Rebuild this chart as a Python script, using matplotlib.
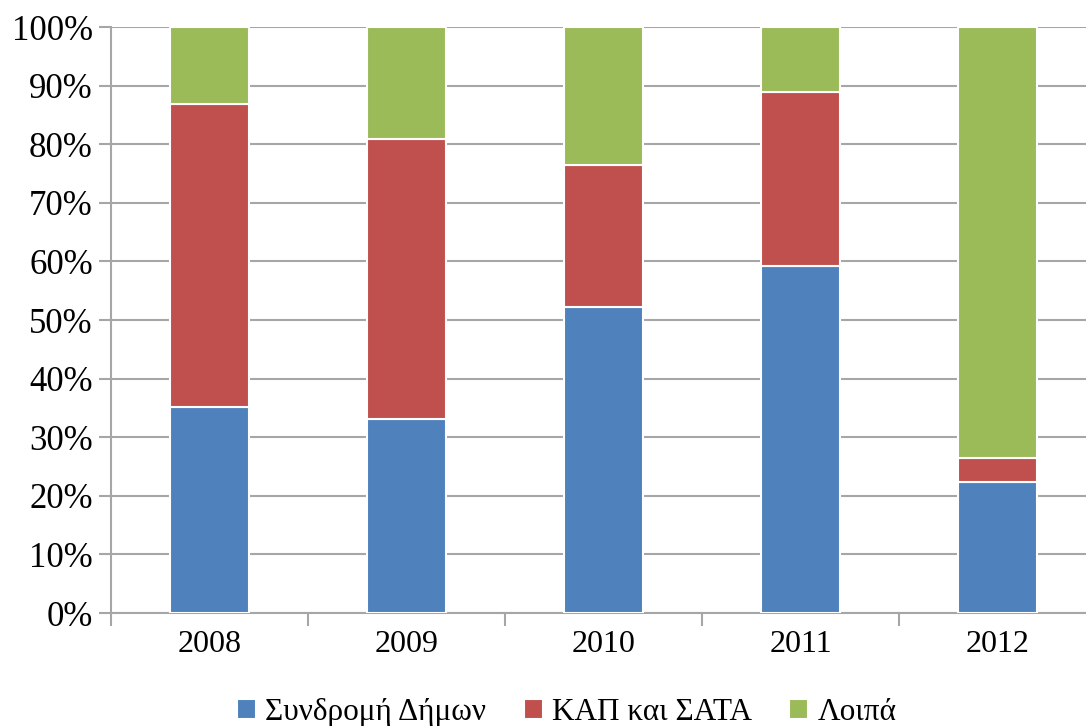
import matplotlib.pyplot as plt
from matplotlib.ticker import FuncFormatter
import numpy as np

years = ['2008', '2009', '2010', '2011', '2012']
syndromi = [35.2, 33.1, 52.2, 59.2, 22.4]
kap_sata = [51.7, 47.8, 24.3, 29.7, 4.1]
loipa = [13.1, 19.1, 23.5, 11.1, 73.5]

names = ['Συνδρομή Δήμων', 'ΚΑΠ και ΣΑΤΑ', 'Λοιπά']
colors = ['#4F81BD', '#C0504D', '#9BBB59']

plt.rcParams['font.family'] = ['Liberation Serif', 'DejaVu Serif']

fig = plt.figure(figsize=(10.86, 7.26), dpi=100)
ax = fig.add_axes([0.1022, 0.1556, 0.907, 0.8072])

x = np.arange(len(years))
bottom = np.zeros(len(years))
for vals, name, c in zip([syndromi, kap_sata, loipa], names, colors):
    ax.bar(x, vals, 0.4, bottom=bottom, color=c, edgecolor='white',
           linewidth=1.5, label=name, zorder=3)
    bottom += np.array(vals)

ax.set_xlim(-0.5, 4.5)
ax.set_ylim(0, 100)
ax.set_yticks(range(0, 101, 10))
ax.yaxis.set_major_formatter(FuncFormatter(lambda v, p: '%d%%' % v))
ax.set_xticks(x)
ax.set_xticklabels(years)
ax.set_xticks(np.arange(-0.5, 5, 1), minor=True)
ax.tick_params(axis='x', which='major', length=0, pad=12, labelsize=23)
ax.tick_params(axis='x', which='minor', length=9, color='#A6A6A6', width=1.5)
ax.tick_params(axis='y', length=9, color='#A6A6A6', width=1.5, labelsize=25, pad=4)
ax.grid(axis='y', color='#A6A6A6', linewidth=1.5, zorder=0)
for s in ['top', 'right']:
    ax.spines[s].set_visible(False)
for s in ['left', 'bottom']:
    ax.spines[s].set_color('#A6A6A6')
    ax.spines[s].set_linewidth(1.5)

fig.legend(loc='lower center', bbox_to_anchor=(0.522, -0.04), ncol=3,
           frameon=False, fontsize=22.5, handlelength=0.6, handleheight=0.6,
           handletextpad=0.3, columnspacing=1.2)

fig.savefig('out.png', dpi=100)
